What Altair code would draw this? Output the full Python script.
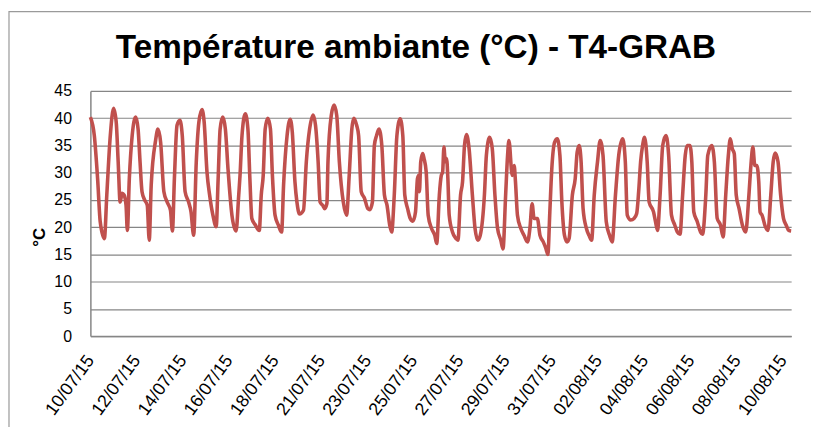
import altair as alt
import pandas as pd

# Elapsed time (days since 10/07/15, category-axis position)
days = [
    0.00, 0.18, 0.33, 0.45, 0.64, 0.75, 0.91, 1.06, 1.18, 1.27,
    1.36, 1.45, 1.54, 1.63, 1.69, 1.78, 1.91, 2.07, 2.18, 2.27,
    2.36, 2.48, 2.60, 2.69, 2.78, 2.98, 3.09, 3.21, 3.36, 3.51,
    3.66, 3.75, 3.84, 3.96, 4.09, 4.20, 4.33, 4.49, 4.60, 4.72,
    4.84, 4.96, 5.10, 5.20, 5.33, 5.45, 5.60, 5.75, 5.84, 5.93,
    6.05, 6.17, 6.29, 6.47, 6.66, 6.78, 6.84, 6.93, 7.08, 7.20,
    7.29, 7.38, 7.54, 7.72, 7.81, 7.90, 7.99, 8.11, 8.23, 8.32,
    8.44, 8.59, 8.74, 8.83, 8.99, 9.13, 9.23, 9.35, 9.44, 9.56,
    9.74, 9.87, 10.02, 10.18, 10.29, 10.41, 10.50, 10.62, 10.71, 10.81,
    10.86, 11.01, 11.14, 11.26, 11.38, 11.56, 11.71, 11.83, 11.95, 12.04,
    12.17, 12.26, 12.38, 12.53, 12.68, 12.77, 12.89, 12.98, 13.08, 13.19,
    13.32, 13.44, 13.56, 13.68, 13.77, 13.89, 14.01, 14.16, 14.28, 14.37,
    14.50, 14.62, 14.74, 14.86, 14.95, 15.01, 15.04, 15.10, 15.19, 15.25,
    15.35, 15.44, 15.59, 15.74, 15.83, 15.95, 16.04, 16.10, 16.16, 16.22,
    16.28, 16.34, 16.40, 16.55, 16.71, 16.80, 16.92, 17.01, 17.10, 17.19,
    17.31, 17.46, 17.58, 17.71, 17.82, 18.01, 18.10, 18.25, 18.37, 18.49,
    18.61, 18.76, 18.86, 18.98, 19.07, 19.13, 19.28, 19.37, 19.43, 19.52,
    19.67, 19.82, 19.98, 20.09, 20.19, 20.28, 20.43, 20.55, 20.70, 20.82,
    20.91, 21.00, 21.09, 21.22, 21.34, 21.46, 21.55, 21.67, 21.79, 21.88,
    22.03, 22.16, 22.25, 22.34, 22.43, 22.52, 22.67, 22.79, 22.91, 23.03,
    23.18, 23.30, 23.43, 23.58, 23.73, 23.85, 24.00, 24.15, 24.33, 24.45,
    24.54, 24.70, 24.85, 24.97, 25.06, 25.15, 25.24, 25.33, 25.45, 25.54,
    25.74, 25.83, 25.92, 26.04, 26.16, 26.31, 26.43, 26.56, 26.71, 26.83,
    26.95, 27.07, 27.19, 27.28, 27.40, 27.49, 27.58, 27.74, 27.89, 27.98,
    28.13, 28.22, 28.40, 28.52, 28.65, 28.80, 28.92, 29.04, 29.16, 29.25,
    29.34, 29.43, 29.52, 29.65, 29.80, 29.95, 30.10, 30.19, 30.28, 30.37,
    30.46, 30.55, 30.61, 30.70, 30.85, 30.97, 31.10, 31.21, 31.30, 31.43,
    31.55, 31.68, 31.80, 31.92, 32.03,
]

# Ambient temperature (°C)
temps = [
    40.2, 36.8, 28.9, 21.0, 17.9, 25.9, 36.8, 41.8, 39.3, 32.0,
    24.6, 26.2, 25.9, 24.0, 19.4, 28.9, 36.8, 40.2, 38.0, 32.0,
    26.5, 25.0, 24.0, 17.6, 27.7, 35.9, 38.0, 35.6, 26.5, 24.6,
    23.1, 19.3, 28.9, 38.7, 39.6, 36.8, 26.5, 24.6, 22.8, 18.5,
    32.0, 39.3, 41.6, 39.3, 30.1, 25.9, 22.2, 20.1, 28.9, 38.0,
    40.2, 38.0, 30.7, 22.2, 19.3, 25.9, 29.5, 36.8, 40.8, 38.0,
    28.9, 21.6, 20.4, 19.4, 25.9, 29.5, 38.0, 40.0, 38.0, 29.5,
    22.2, 20.4, 19.1, 27.7, 36.8, 39.8, 37.4, 28.3, 24.6, 22.4,
    23.1, 32.0, 38.0, 40.6, 38.7, 32.0, 24.6, 24.0, 23.4, 24.3,
    32.0, 40.5, 42.4, 40.5, 32.0, 24.6, 22.2, 29.5, 38.0, 40.0,
    38.7, 36.8, 26.5, 25.3, 23.4, 23.2, 24.6, 35.0, 36.8, 38.0,
    35.0, 25.9, 24.0, 20.4, 19.1, 25.9, 36.8, 39.9, 36.8, 25.9,
    23.4, 21.6, 21.1, 22.8, 28.9, 29.5, 26.5, 32.0, 33.5, 32.6,
    30.1, 22.2, 19.8, 18.5, 17.0, 25.9, 29.5, 30.1, 34.7, 32.0,
    32.6, 28.9, 22.2, 19.1, 17.9, 17.6, 25.9, 28.3, 35.0, 37.0,
    34.4, 25.9, 19.8, 17.6, 18.5, 25.9, 33.2, 36.5, 34.4, 25.9,
    19.8, 17.6, 16.0, 25.9, 33.2, 35.9, 29.5, 31.3, 28.3, 22.2,
    19.8, 18.5, 17.3, 19.8, 24.3, 21.6, 21.6, 18.5, 17.3, 16.1,
    15.0, 22.8, 30.7, 35.6, 36.2, 33.2, 24.6, 18.5, 17.3, 17.9,
    25.9, 28.9, 33.8, 35.0, 32.0, 23.4, 19.8, 18.5, 17.6, 25.9,
    32.0, 35.9, 33.2, 21.0, 18.5, 17.3, 25.9, 33.2, 36.2, 32.0,
    22.2, 21.3, 21.6, 22.5, 26.5, 32.0, 35.0, 36.5, 32.0, 24.6,
    22.8, 21.0, 19.4, 25.9, 35.0, 36.8, 33.2, 22.2, 20.4, 19.1,
    18.7, 25.9, 33.2, 35.0, 35.0, 32.0, 22.8, 21.0, 19.1, 18.7,
    25.9, 33.2, 35.0, 32.0, 21.6, 20.4, 18.2, 25.9, 33.2, 36.2,
    34.4, 33.5, 25.9, 23.4, 20.4, 19.1, 25.9, 31.3, 34.7, 31.3,
    31.3, 28.3, 22.8, 22.2, 20.1, 19.4, 25.9, 32.0, 33.6, 32.0,
    25.9, 21.6, 20.4, 19.4, 19.3,
]

date_labels = [
    "10/07/15", "12/07/15", "14/07/15", "16/07/15", "18/07/15", "21/07/15",
    "23/07/15", "25/07/15", "27/07/15", "29/07/15", "31/07/15", "02/08/15",
    "04/08/15", "06/08/15", "08/08/15", "10/08/15",
]
label_step = 2.111  # days between labelled categories
y_ticks = [0, 5, 10, 15, 20, 25, 30, 35, 40, 45]
chart_title = "Température ambiante (°C) - T4-GRAB"

df = pd.DataFrame({"jour": days, "temp": temps})
tick_vals = [round(i * label_step, 3) for i in range(len(date_labels))]
label_expr = "[" + ",".join("'%s'" % s for s in date_labels) + "][round(datum.value / %s)]" % label_step

grey = "#868686"

line = alt.Chart(df).mark_line(
    color="#C0504D", strokeWidth=3.6, interpolate="monotone", strokeJoin="round"
).encode(
    x=alt.X(
        "jour:Q",
        scale=alt.Scale(domain=[0, 32.03], nice=False, zero=False),
        axis=alt.Axis(
            values=tick_vals, labelExpr=label_expr, labelAngle=-54,
            labelAlign="right", labelBaseline="middle", labelPadding=21,
            ticks=False, grid=False, domainColor=grey, domainWidth=1.5,
            title=None, labelFontSize=18, labelColor="black",
            labelFont="Liberation Sans", labelOverlap=False, labelBound=False,
            labelFlush=False,
        ),
    ),
    y=alt.Y(
        "temp:Q",
        scale=alt.Scale(domain=[0, 45], nice=False),
        axis=alt.Axis(
            values=y_ticks, title="°C", titleAngle=-90, titleFontSize=17,
            titleFont="Liberation Sans", titleFontWeight="bold", titleColor="black",
            titleX=-51, titleY=147, titleAlign="center", titleBaseline="middle",
            labelFontSize=16, labelFont="Liberation Sans", labelColor="black",
            labelPadding=19, ticks=False, grid=True, gridColor=grey, gridWidth=1.2,
            domainColor=grey, domainWidth=1.5,
        ),
    ),
)

# Outer chart-area frame (decoration)
frame = alt.Chart(alt.Data(values=[{}])).mark_rect(
    fill="transparent", stroke="#9a9a9a", strokeWidth=1.2, clip=False
).encode(
    x=alt.value(-82), x2=alt.value(740), y=alt.value(-80), y2=alt.value(360)
)

# Chart title as a text mark above the plot area
title = alt.Chart(alt.Data(values=[{"t": chart_title}])).mark_text(
    font="Liberation Sans", fontSize=33.5, fontWeight="bold", color="black",
    align="center", baseline="alphabetic", clip=False
).encode(
    text="t:N", x=alt.value(328), y=alt.value(-33)
)

chart = alt.layer(frame, line, title).properties(
    width=706,
    height=247,
    autosize="none",
    padding={"left": 83, "top": 82, "right": 20, "bottom": 90},
).configure_view(strokeOpacity=0)

chart.save("out.html", embed_options={"renderer": "svg", "actions": False})
